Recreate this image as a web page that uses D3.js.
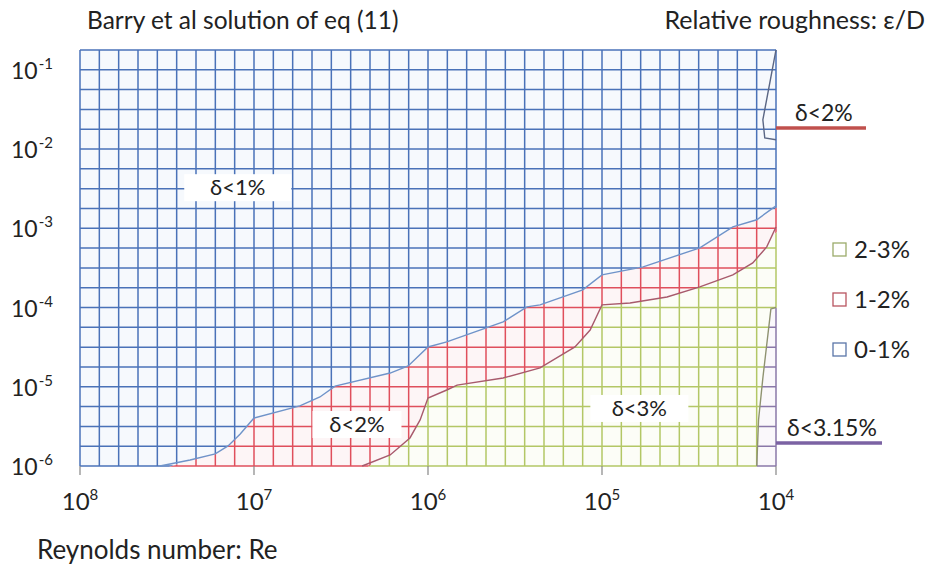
<!DOCTYPE html>
<html>
<head>
<meta charset="utf-8">
<script src="https://cdn.jsdelivr.net/npm/d3@7/dist/d3.min.js"></script>
<style>
  body { margin: 0; background: #fff; }
  text { font-family: Lato, "Open Sans", sans-serif; fill: #222; }
</style>
</head>
<body>
<svg id="chart" width="932" height="572"></svg>
<script>
// axis ticks (decades) and their exponent labels
const reTicks = [1e8, 1e7, 1e6, 1e5, 1e4],
  reLabels = ['8', '7', '6', '5', '4'],
  epsTicks = [1e-1, 1e-2, 1e-3, 1e-4, 1e-5, 1e-6],
  epsLabels = ['-1', '-2', '-3', '-4', '-5', '-6'];

// contour lines: [Re, eps/D]
const contour1 = [ // 1% boundary (blue / red)
  [3.47e7, 1.0e-6], [2.33e7, 1.19e-6], [1.67e7, 1.42e-6], [1.41e7, 1.79e-6],
  [1.20e7, 2.54e-6], [1.0e7, 4.04e-6], [5.45e6, 5.73e-6], [4.18e6, 7.43e-6],
  [3.42e6, 1.02e-5], [1.65e6, 1.49e-5], [1.30e6, 1.83e-5], [1.0e6, 3.18e-5],
  [7.8e5, 3.68e-5], [3.7e5, 6.58e-5], [2.7e5, 1.02e-4], [2.27e5, 1.08e-4],
  [1.29e5, 1.67e-4], [1.0e5, 2.58e-4], [5.8e4, 3.26e-4], [2.74e4, 5.66e-4],
  [1.77e4, 1.04e-3], [1.29e4, 1.28e-3], [1.0e4, 1.92e-3]
];
const contour2 = [ // 2% boundary (red / green)
  [2.39e6, 1.0e-6], [1.65e6, 1.38e-6], [1.27e6, 2.26e-6], [1.11e6, 3.81e-6],
  [1.0e6, 7.2e-6], [7.8e5, 9.1e-6], [6.8e5, 1.05e-5], [3.7e5, 1.29e-5],
  [2.27e5, 1.73e-5], [1.43e5, 3.18e-5], [1.17e5, 5.2e-5], [1.0e5, 1.08e-4],
  [6.9e4, 1.14e-4], [4.23e4, 1.36e-4], [2.74e4, 1.82e-4], [1.77e4, 2.58e-4],
  [1.36e4, 3.66e-4], [1.13e4, 5.82e-4], [1.0e4, 1.04e-3]
];
const contourTop = [ // small pocket at the top right
  [1.0e4, 0.178], [1.19e4, 0.0234], [1.16e4, 0.0138], [1.0e4, 0.0131]
];
const contour3 = [ // 3% boundary at the bottom right
  [1.0e4, 1.0e-4], [1.07e4, 9.6e-5], [1.19e4, 1.29e-5], [1.26e4, 3.81e-6], [1.29e4, 1.0e-6]
];

const bands = ['2-3%', '1-2%', '0-1%'];
const regionLabels = [
  {text: 'δ<1%', re: 1.24e7, eps: 3.3e-3, w: 107},
  {text: 'δ<2%', re: 2.56e6, eps: 3.39e-6, w: 89},
  {text: 'δ<3%', re: 6.1e4, eps: 5.4e-6, w: 98}
];

const svg = d3.select('#chart');
const x = d3.scaleLog().domain([1e8, 1e4]).range([80, 776]),
  y = d3.scaleLog().domain([1e-6, Math.pow(10, -0.75)]).range([466, 50]);
const x0 = x.range()[0], x1 = x.range()[1], yb = y.range()[0], yt = y.range()[1];

// grid: 9 columns and 4 rows per decade
const gridRe = d3.range(0, 37).map(k => Math.pow(10, 8 - k / 9)),
  gridEps = d3.range(0, 22).map(j => Math.pow(10, -6 + j / 4));

// pixel points, pushed a bit outward where they touch the plot frame
const pad = 4;
const px = (c) => c.map(d => [x(d[0]), y(d[1])]);
const ext = (pts) => pts.map(([a, b]) => [
  Math.abs(a - x1) < 0.5 ? x1 + pad : a,
  Math.abs(b - yb) < 0.5 ? yb + pad : (Math.abs(b - yt) < 0.5 ? yt - pad : b)
]);
const poly = (pts) => 'M' + pts.map(p => p.join(',')).join('L') + 'Z';

const c1 = ext(px(contour1)), c2 = ext(px(contour2)), c3 = ext(px(contour3));
const L = x0 - pad, R = x1 + pad, T = yt - pad, B = yb + pad;

const regions = [
  {id: 'blue', grid: '#4a72b8', tint: '#f6f9fd',
    d: poly([[L, T], [R, T]].concat(c1.slice().reverse(), [[L, B]]))},
  {id: 'red', grid: '#df4f5c', tint: '#fdf5f6',
    d: poly(c1.concat(c2.slice().reverse()))},
  {id: 'green', grid: '#b3c766', tint: '#fcfdf7',
    d: poly(c2.concat(c3, [[c2[0][0], B]]))},
  {id: 'purple', grid: '#8a78a8', tint: '#faf8fb',
    d: poly(c3.concat([[R, B]]))}
];

const defs = svg.append('defs');
regions.forEach(r => {
  defs.append('clipPath').attr('id', 'clip-' + r.id)
    .append('path').attr('d', r.d);
});

regions.forEach(r => {
  const g = svg.append('g').attr('clip-path', `url(#clip-${r.id})`);
  g.append('rect')
    .attr('x', x0).attr('y', yt)
    .attr('width', x1 - x0).attr('height', yb - yt)
    .attr('fill', r.tint);
  g.selectAll('line.v').data(gridRe).enter().append('line')
    .attr('x1', d => x(d)).attr('x2', d => x(d))
    .attr('y1', yt).attr('y2', yb)
    .attr('stroke', r.grid).attr('stroke-width', 1.5);
  g.selectAll('line.h').data(gridEps).enter().append('line')
    .attr('x1', x0).attr('x2', x1)
    .attr('y1', d => y(d)).attr('y2', d => y(d))
    .attr('stroke', r.grid).attr('stroke-width', 1.5);
});

// contour lines
const line = d3.line().x(d => x(d[0])).y(d => y(d[1]));
[[contour1, '#6f93c9'], [contour2, '#a85a6c'], [contourTop, '#5a6684'], [contour3, '#8e9270']]
  .forEach(([c, col]) => {
    svg.append('path').datum(c).attr('d', line)
      .attr('fill', 'none').attr('stroke', col).attr('stroke-width', 1.4);
  });

// x axis ticks + labels
svg.selectAll('line.xt').data(reTicks).enter().append('line')
  .attr('x1', d => x(d)).attr('x2', d => x(d))
  .attr('y1', yb).attr('y2', yb + 9)
  .attr('stroke', '#868686').attr('stroke-width', 1.2);
const xl = svg.selectAll('text.xl').data(reTicks).enter().append('text')
  .attr('x', d => x(d)).attr('y', yb + 44)
  .attr('text-anchor', 'middle').style('font-size', '24px');
xl.append('tspan').text('10');
xl.append('tspan').attr('dy', -10).style('font-size', '15px')
  .text((d, i) => reLabels[i]);

// y axis labels
const yl = svg.selectAll('text.yl').data(epsTicks).enter().append('text')
  .attr('x', 11).attr('y', d => y(d) + 9)
  .style('font-size', '23px');
yl.append('tspan').text('10');
yl.append('tspan').attr('dy', -10).attr('dx', 1).style('font-size', '15px')
  .text((d, i) => epsLabels[i]);

// region labels on white boxes
regionLabels.forEach(l => {
  const cx = x(l.re), cy = y(l.eps);
  svg.append('rect').attr('x', cx - l.w / 2).attr('y', cy - 13)
    .attr('width', l.w).attr('height', 27).attr('fill', '#fff');
  svg.append('text').attr('x', cx).attr('y', cy + 8)
    .attr('text-anchor', 'middle').style('font-size', '22px').text(l.text);
});

// titles
svg.append('text').attr('x', 87).attr('y', 29).style('font-size', '24.5px')
  .text('Barry et al solution of eq (11)');
svg.append('text').attr('x', 925).attr('y', 29).attr('text-anchor', 'end')
  .style('font-size', '25px').text('Relative roughness: ε/D');
svg.append('text').attr('x', 37).attr('y', 559).style('font-size', '26px')
  .text('Reynolds number: Re');

// side markers for the two small pockets
const markers = [
  {text: 'δ<2%', eps: 0.0185, len: 90, col: '#c0504d', tx: 795},
  {text: 'δ<3.15%', eps: 1.95e-6, len: 106, col: '#7b62a3', tx: 787}
];
markers.forEach(m => {
  const my = y(m.eps);
  svg.append('line').attr('x1', x1).attr('x2', x1 + m.len)
    .attr('y1', my).attr('y2', my)
    .attr('stroke', m.col).attr('stroke-width', 3.5);
  svg.append('text').attr('x', m.tx).attr('y', my - 7)
    .style('font-size', '23px').text(m.text);
});

// legend
const legCols = ['#9bab6a', '#b85560', '#5a76a8'];
const leg = svg.selectAll('g.leg').data(bands).enter().append('g')
  .attr('transform', (d, i) => `translate(833,${250 + i * 50})`);
leg.append('rect').attr('x', 0).attr('y', -7).attr('width', 13).attr('height', 13)
  .attr('fill', '#fff').attr('stroke', (d, i) => legCols[i]).attr('stroke-width', 1.3);
leg.append('text').attr('x', 21).attr('y', 8).style('font-size', '24px').text(d => d);
</script>
</body>
</html>
